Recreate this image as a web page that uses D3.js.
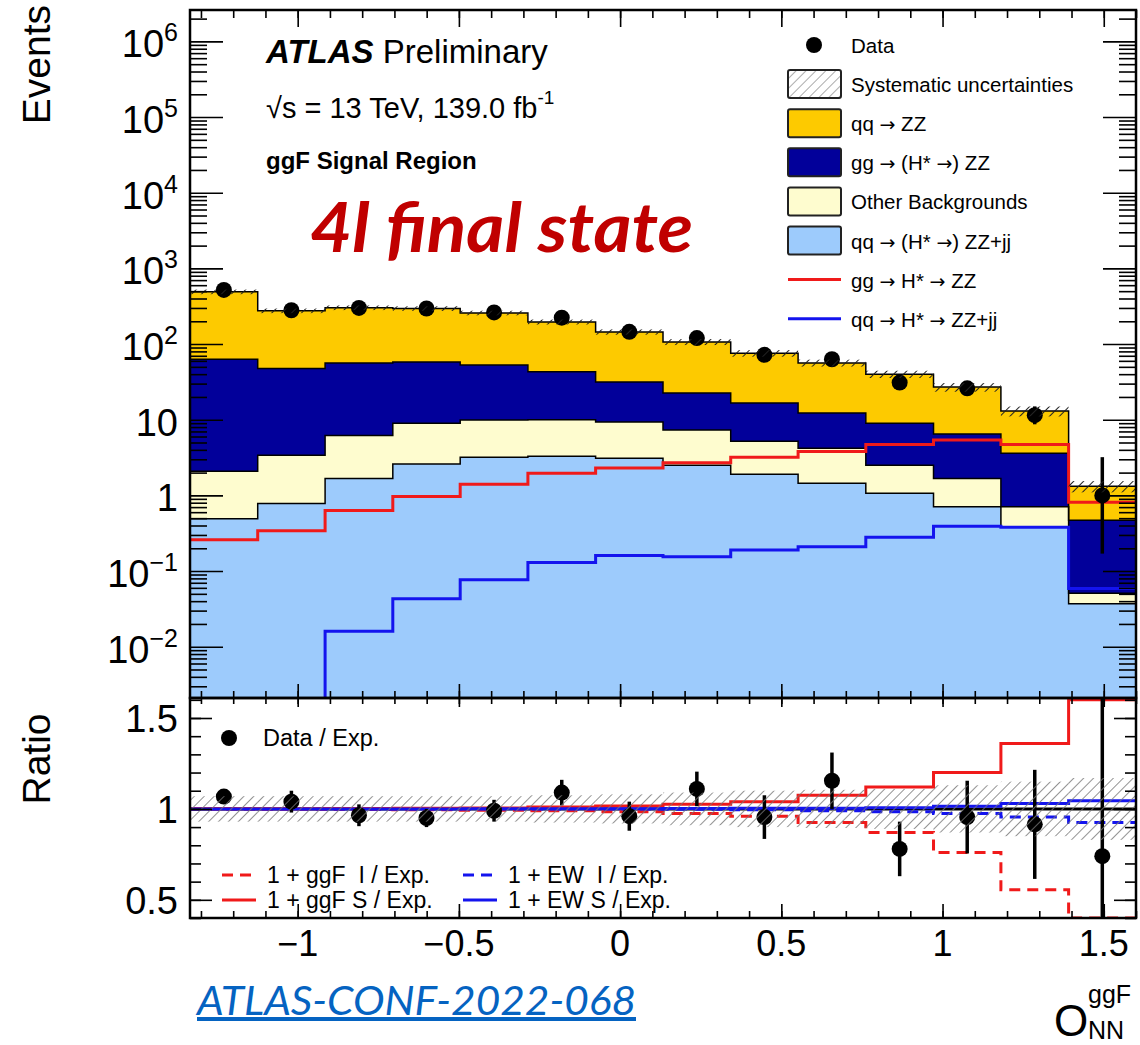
<!DOCTYPE html>
<html>
<head>
<meta charset="utf-8">
<script src="https://cdn.jsdelivr.net/npm/d3@7"></script>
<style>
  body { margin: 0; background: #fff; }
  text { font-family: "Liberation Sans", Arial, Helvetica, sans-serif; fill: #000; }
</style>
</head>
<body>
<svg id="chart" width="1140" height="1045"></svg>
<script>
// bin edges of O_NN^ggF (14 bins)
const binEdges = [-1.334, -1.124, -0.915, -0.705, -0.496, -0.286, -0.076, 0.133, 0.343, 0.552, 0.762, 0.972, 1.181, 1.391, 1.6];

// stacked backgrounds, bottom to top
const qqZZjj   = [0.49, 0.78, 1.67, 2.6, 3.2, 3.3, 3.1, 2.5, 1.9, 1.45, 1.07, 0.71, 0.38, 0.037];
const otherBkg = [1.6, 2.6, 4.5, 6.4, 6.7, 6.7, 6.2, 4.8, 3.3, 2.75, 1.43, 0.96, 0.33, 0.014];
const ggZZ     = [61, 44, 50, 49, 43, 33, 22.3, 15.3, 11.4, 8.1, 6.5, 4.8, 2.9, 0.42];
const qqZZ     = [427, 228, 246, 237, 205, 153, 113, 84, 59, 44, 31, 20.5, 9.4, 0.85];

// signal-only lines
const ggHstar = [0.26, 0.34, 0.63, 0.97, 1.4, 1.96, 2.3, 2.7, 3.2, 3.8, 4.7, 5.4, 4.7, 0.81];
const qqHstar = [0, 0, 0.016, 0.043, 0.077, 0.13, 0.16, 0.155, 0.19, 0.21, 0.28, 0.39, 0.38, 0.059];

// data
const dataEvents  = [520, 280, 300, 295, 262, 223, 145, 120, 72, 63, 31, 26, 11.5, 1.0];
const dataErrUp   = [23, 17, 17, 17, 16, 15, 12, 11, 8.5, 8, 5.6, 5.1, 3.5, 2.2];
const dataErrDown = [23, 17, 17, 17, 16, 15, 12, 11, 8.5, 8, 5.6, 5.1, 2.8, 0.83];
const systRel     = [0.07, 0.07, 0.07, 0.07, 0.07, 0.075, 0.08, 0.09, 0.1, 0.105, 0.11, 0.13, 0.15, 0.17];

// ratio panel
const ratioData = [1.068, 1.04, 0.965, 0.95, 0.99, 1.09, 0.96, 1.11, 0.955, 1.155, 0.78, 0.955, 0.915, 0.74];
const ratioErr  = [0.04, 0.06, 0.06, 0.05, 0.06, 0.07, 0.08, 0.095, 0.12, 0.155, 0.15, 0.2, 0.3, 0.9];
const ratioGgfS = [1.001, 1.001, 1.002, 1.003, 1.005, 1.01, 1.016, 1.025, 1.04, 1.075, 1.12, 1.2, 1.36, 1.6];
const ratioGgfI = [0.999, 0.998, 0.997, 0.995, 0.993, 0.99, 0.985, 0.975, 0.96, 0.925, 0.87, 0.76, 0.555, 0.40];
const ratioEwS  = [1.0, 1.0, 1.0, 1.0, 1.001, 1.001, 1.001, 1.002, 1.003, 1.004, 1.007, 1.014, 1.03, 1.045];
const ratioEwI  = [1.0, 1.0, 1.0, 1.0, 1.0, 1.0, 0.999, 0.998, 0.995, 0.99, 0.985, 0.975, 0.955, 0.925];

// axis ticks
const xTicks = [-1, -0.5, 0, 0.5, 1, 1.5];
const yTickExps = [-2, -1, 0, 1, 2, 3, 4, 5, 6];
const ratioTicks = [0.5, 1, 1.5];

const svg = d3.select("#chart");
const L = 190, R = 1136, T = 10, MB = 698, RB = 918;

const x = d3.scaleLinear().domain([binEdges[0], binEdges[binEdges.length - 1]]).range([L, R]);
const y = d3.scaleLog().domain([0.0021, 2.6e6]).range([MB, T]);
const yr = d3.scaleLinear().domain([0.4, 1.61]).range([RB, MB]);
const yMin = 1e-4;

const defs = svg.append("defs");
defs.append("clipPath").attr("id", "clipMain")
  .append("rect").attr("x", L).attr("y", T).attr("width", R - L).attr("height", MB - T);
defs.append("clipPath").attr("id", "clipRatio")
  .append("rect").attr("x", L).attr("y", MB).attr("width", R - L).attr("height", RB - MB);

function hatch(id, color, w) {
  defs.append("pattern").attr("id", id)
    .attr("patternUnits", "userSpaceOnUse")
    .attr("width", 7).attr("height", 7)
    .attr("patternTransform", "rotate(45)")
    .append("line").attr("x1", 0).attr("y1", 0).attr("x2", 0).attr("y2", 7)
    .attr("stroke", color).attr("stroke-width", w);
}
hatch("hatchMain", "#222", 2);
hatch("hatchRatio", "#777", 1.6);
hatch("hatchLegend", "#888", 1.4);

// rows for the stack
const rows = qqZZ.map((_, i) => ({
  x0: binEdges[i], x1: binEdges[i + 1],
  qqZZjj: qqZZjj[i], otherBkg: otherBkg[i], ggZZ: ggZZ[i], qqZZ: qqZZ[i]
}));
const keys = ["qqZZjj", "otherBkg", "ggZZ", "qqZZ"];
const colors = { qqZZjj: "#9dcbfc", otherBkg: "#fefccf", ggZZ: "#02009a", qqZZ: "#fdca00" };
const stacked = d3.stack().keys(keys)(rows);
const totals = stacked[stacked.length - 1].map(d => d[1]);

const stepPts = (vals) => vals.flatMap((v, i) => [[binEdges[i], v], [binEdges[i + 1], v]]);

const main = svg.append("g").attr("clip-path", "url(#clipMain)");

const area = d3.area()
  .x(d => x(d.x))
  .y0(d => y(Math.max(d.lo, yMin)))
  .y1(d => y(Math.max(d.hi, yMin)));
const line = d3.line().x(d => x(d[0])).y(d => y(Math.max(d[1], yMin)));

stacked.forEach(layer => {
  const pts = layer.flatMap((d, i) => [
    { x: binEdges[i], lo: d[0], hi: d[1] },
    { x: binEdges[i + 1], lo: d[0], hi: d[1] }
  ]);
  main.append("path").attr("d", area(pts)).attr("fill", colors[layer.key]);
});
stacked.forEach(layer => {
  main.append("path").attr("d", line(stepPts(layer.map(d => d[1]))))
    .attr("fill", "none").attr("stroke", "#000").attr("stroke-width", 1.5);
});

main.append("path").attr("d", line(stepPts(ggHstar)))
  .attr("fill", "none").attr("stroke", "#f01a1a").attr("stroke-width", 3);
main.append("path").attr("d", line(stepPts(qqHstar)))
  .attr("fill", "none").attr("stroke", "#1414ee").attr("stroke-width", 3);

// data points
main.selectAll(".err").data(dataEvents).enter().append("line")
  .attr("x1", (d, i) => x((binEdges[i] + binEdges[i + 1]) / 2))
  .attr("x2", (d, i) => x((binEdges[i] + binEdges[i + 1]) / 2))
  .attr("y1", (d, i) => y(d + dataErrUp[i]))
  .attr("y2", (d, i) => y(Math.max(d - dataErrDown[i], yMin)))
  .attr("stroke", "#000").attr("stroke-width", 3.5);
main.selectAll(".dot").data(dataEvents).enter().append("circle")
  .attr("cx", (d, i) => x((binEdges[i] + binEdges[i + 1]) / 2))
  .attr("cy", d => y(d)).attr("r", 8).attr("fill", "#000");

// syst band around the total
main.selectAll(".band").data(totals).enter().append("rect")
  .attr("x", (d, i) => x(binEdges[i]))
  .attr("width", (d, i) => x(binEdges[i + 1]) - x(binEdges[i]))
  .attr("y", (d, i) => y(d * (1 + systRel[i])))
  .attr("height", (d, i) => y(d * (1 - systRel[i])) - y(d * (1 + systRel[i])))
  .attr("fill", "url(#hatchMain)");

// ---- ratio panel
const rp = svg.append("g").attr("clip-path", "url(#clipRatio)");
const rline = d3.line().x(d => x(d[0])).y(d => yr(d[1]));

rp.append("path").attr("d", rline([[binEdges[0], 1], [binEdges[14], 1]]))
  .attr("stroke", "#000").attr("stroke-width", 3).attr("fill", "none");
rp.append("path").attr("d", rline(stepPts(ratioGgfI)))
  .attr("fill", "none").attr("stroke", "#f01a1a").attr("stroke-width", 3).attr("stroke-dasharray", "11,7");
rp.append("path").attr("d", rline(stepPts(ratioEwI)))
  .attr("fill", "none").attr("stroke", "#1414ee").attr("stroke-width", 3).attr("stroke-dasharray", "11,7");
rp.append("path").attr("d", rline(stepPts(ratioGgfS)))
  .attr("fill", "none").attr("stroke", "#f01a1a").attr("stroke-width", 3);
rp.append("path").attr("d", rline(stepPts(ratioEwS)))
  .attr("fill", "none").attr("stroke", "#1414ee").attr("stroke-width", 3);

rp.selectAll(".rerr").data(ratioData).enter().append("line")
  .attr("x1", (d, i) => x((binEdges[i] + binEdges[i + 1]) / 2))
  .attr("x2", (d, i) => x((binEdges[i] + binEdges[i + 1]) / 2))
  .attr("y1", (d, i) => yr(d + ratioErr[i]))
  .attr("y2", (d, i) => yr(d - ratioErr[i]))
  .attr("stroke", "#000").attr("stroke-width", 3.5);
rp.selectAll(".rdot").data(ratioData).enter().append("circle")
  .attr("cx", (d, i) => x((binEdges[i] + binEdges[i + 1]) / 2))
  .attr("cy", d => yr(d)).attr("r", 8).attr("fill", "#000");

rp.selectAll(".rband").data(systRel).enter().append("rect")
  .attr("x", (d, i) => x(binEdges[i]))
  .attr("width", (d, i) => x(binEdges[i + 1]) - x(binEdges[i]))
  .attr("y", d => yr(1 + d))
  .attr("height", d => yr(1 - d) - yr(1 + d))
  .attr("fill", "url(#hatchRatio)");

// ---- ticks
function ticks(axisFn, scale, values, size, tr) {
  svg.append("g").attr("transform", tr)
    .call(axisFn(scale).tickValues(values).tickSize(size).tickSizeOuter(0).tickFormat(""))
    .call(g => g.select(".domain").remove())
    .selectAll("line").attr("stroke", "#000").attr("stroke-width", 1.6);
}
const yMajor = yTickExps.map(e => Math.pow(10, e));
const yMinor = y.ticks(20).filter(v => !yMajor.some(m => Math.abs(m - v) / m < 1e-6));
const xMinor = x.ticks(30);
const rMinor = yr.ticks(12);

ticks(d3.axisLeft, y, yMajor, -33, `translate(${L},0)`);
ticks(d3.axisLeft, y, yMinor, -17, `translate(${L},0)`);
ticks(d3.axisRight, y, yMajor, -33, `translate(${R},0)`);
ticks(d3.axisRight, y, yMinor, -17, `translate(${R},0)`);
ticks(d3.axisTop, x, xTicks, -17, `translate(0,${T})`);
ticks(d3.axisTop, x, xMinor, -8, `translate(0,${T})`);
ticks(d3.axisBottom, x, xTicks, -14, `translate(0,${MB})`);
ticks(d3.axisBottom, x, xMinor, -7, `translate(0,${MB})`);
ticks(d3.axisTop, x, xTicks, -9, `translate(0,${MB})`);
ticks(d3.axisTop, x, xMinor, -6, `translate(0,${MB})`);
ticks(d3.axisBottom, x, xTicks, -14, `translate(0,${RB})`);
ticks(d3.axisBottom, x, xMinor, -7, `translate(0,${RB})`);
ticks(d3.axisLeft, yr, ratioTicks, -22, `translate(${L},0)`);
ticks(d3.axisLeft, yr, rMinor, -11, `translate(${L},0)`);
ticks(d3.axisRight, yr, ratioTicks, -22, `translate(${R},0)`);
ticks(d3.axisRight, yr, rMinor, -11, `translate(${R},0)`);

// frames
svg.append("rect").attr("x", L).attr("y", T).attr("width", R - L).attr("height", MB - T)
  .attr("fill", "none").attr("stroke", "#000").attr("stroke-width", 2.5);
svg.append("rect").attr("x", L).attr("y", MB).attr("width", R - L).attr("height", RB - MB)
  .attr("fill", "none").attr("stroke", "#000").attr("stroke-width", 2.5);

// ---- tick labels
const minus = s => String(s).replace("-", "\u2212");
svg.selectAll(".ylab").data(yTickExps).enter().append("text")
  .attr("x", 178).attr("y", e => y(Math.pow(10, e)) + 16)
  .attr("text-anchor", "end").attr("font-size", 38)
  .each(function (e) {
    const t = d3.select(this);
    if (e === 0) { t.text("1"); return; }
    if (e === 1) { t.text("10"); return; }
    t.append("tspan").text("10");
    t.append("tspan").attr("font-size", 25).attr("dy", -16).text(minus(e));
  });

svg.selectAll(".rlab").data(ratioTicks).enter().append("text")
  .attr("x", 178).attr("y", d => yr(d) + 14)
  .attr("text-anchor", "end").attr("font-size", 38)
  .text(d => d);

svg.selectAll(".xlab").data(xTicks).enter().append("text")
  .attr("x", d => x(d)).attr("y", 956)
  .attr("text-anchor", "middle").attr("font-size", 36)
  .text(d => minus(d));

// axis titles
svg.append("text").attr("transform", "translate(50,5) rotate(-90)")
  .attr("text-anchor", "end").attr("font-size", 39).text("Events");
svg.append("text").attr("transform", "translate(50,759) rotate(-90)")
  .attr("text-anchor", "middle").attr("font-size", 39).text("Ratio");
svg.append("text").attr("x", 1054).attr("y", 1036).attr("font-size", 44).text("O");
svg.append("text").attr("x", 1088).attr("y", 1003).attr("font-size", 25).text("ggF");
svg.append("text").attr("x", 1088).attr("y", 1039).attr("font-size", 25).text("NN");

// ATLAS labels
const atl = svg.append("text").attr("x", 266).attr("y", 63).attr("font-size", 33);
atl.append("tspan").attr("font-weight", "bold").attr("font-style", "italic").text("ATLAS");
atl.append("tspan").text(" Preliminary");
const en = svg.append("text").attr("x", 266).attr("y", 118).attr("font-size", 29);
en.append("tspan").text("\u221As = 13 TeV, 139.0 fb");
en.append("tspan").attr("font-size", 19).attr("dy", -14).text("-1");
svg.append("text").attr("x", 266).attr("y", 169).attr("font-size", 24).attr("font-weight", "bold")
  .text("ggF Signal Region");
svg.append("text").attr("x", 310).attr("y", 252)
  .style("font-family", "Lato, 'Open Sans', sans-serif")
  .attr("font-size", 68).attr("font-weight", "bold").attr("font-style", "italic")
  .attr("textLength", 383).attr("lengthAdjust", "spacingAndGlyphs")
  .style("fill", "#c00000").text("4l final state");
svg.append("text").attr("x", 197).attr("y", 1015)
  .style("font-family", "Lato, 'Open Sans', sans-serif")
  .attr("font-size", 40).attr("font-style", "italic")
  .attr("textLength", 439).attr("lengthAdjust", "spacingAndGlyphs")
  .attr("text-decoration", "underline")
  .style("fill", "#0563c1").text("ATLAS-CONF-2022-068");

// ---- main legend
const legendItems = [
  { label: "Data", type: "dot" },
  { label: "Systematic uncertainties", type: "box", fill: "url(#hatchLegend)" },
  { label: "qq \u2192 ZZ", type: "box", fill: colors.qqZZ },
  { label: "gg \u2192 (H* \u2192) ZZ", type: "box", fill: colors.ggZZ },
  { label: "Other Backgrounds", type: "box", fill: colors.otherBkg },
  { label: "qq \u2192 (H* \u2192) ZZ+jj", type: "box", fill: colors.qqZZjj },
  { label: "gg \u2192 H* \u2192 ZZ", type: "line", color: "#f01a1a" },
  { label: "qq \u2192 H* \u2192 ZZ+jj", type: "line", color: "#1414ee" }
];
const leg = svg.selectAll(".leg").data(legendItems).enter().append("g")
  .attr("transform", (d, i) => `translate(0,${45 + i * 39.1})`);
leg.each(function (d) {
  const g = d3.select(this);
  if (d.type === "dot") g.append("circle").attr("cx", 814).attr("cy", 0).attr("r", 8);
  if (d.type === "box") g.append("rect").attr("x", 788).attr("y", -14).attr("width", 53).attr("height", 28)
    .attr("rx", 2).attr("fill", d.fill).attr("stroke", "#222").attr("stroke-width", 2);
  if (d.type === "line") g.append("line").attr("x1", 788).attr("x2", 841).attr("y1", 0).attr("y2", 0)
    .attr("stroke", d.color).attr("stroke-width", 3);
  const t = g.append("text").attr("x", 851).attr("y", 8).attr("font-size", 20.5);
  d.label.split(/(\u2192)/).forEach(part => {
    const s = t.append("tspan").text(part);
    if (part === "\u2192") s.style("font-family", "'DejaVu Sans', sans-serif").attr("font-size", 19);
  });
});

// ---- ratio legend
svg.append("circle").attr("cx", 229).attr("cy", 738).attr("r", 8);
svg.append("text").attr("x", 263).attr("y", 746).attr("font-size", 23.5).text("Data / Exp.");
const ratioLegend = [
  { label: "1 + ggF\u00a0 I / Exp.", color: "#f01a1a", dash: "11,7", lx: 222, row: 0 },
  { label: "1 + ggF S / Exp.", color: "#f01a1a", dash: null, lx: 222, row: 1 },
  { label: "1 + EW\u00a0 I / Exp.", color: "#1414ee", dash: "11,7", lx: 463, row: 0 },
  { label: "1 + EW S / Exp.", color: "#1414ee", dash: null, lx: 463, row: 1 }
];
ratioLegend.forEach(d => {
  const cy = 875 + d.row * 25;
  svg.append("line").attr("x1", d.lx).attr("x2", d.lx + 34).attr("y1", cy).attr("y2", cy)
    .attr("stroke", d.color).attr("stroke-width", 3).attr("stroke-dasharray", d.dash);
  svg.append("text").attr("x", d.lx + 45).attr("y", cy + 8).attr("font-size", 23).text(d.label);
});
</script>
</body>
</html>
